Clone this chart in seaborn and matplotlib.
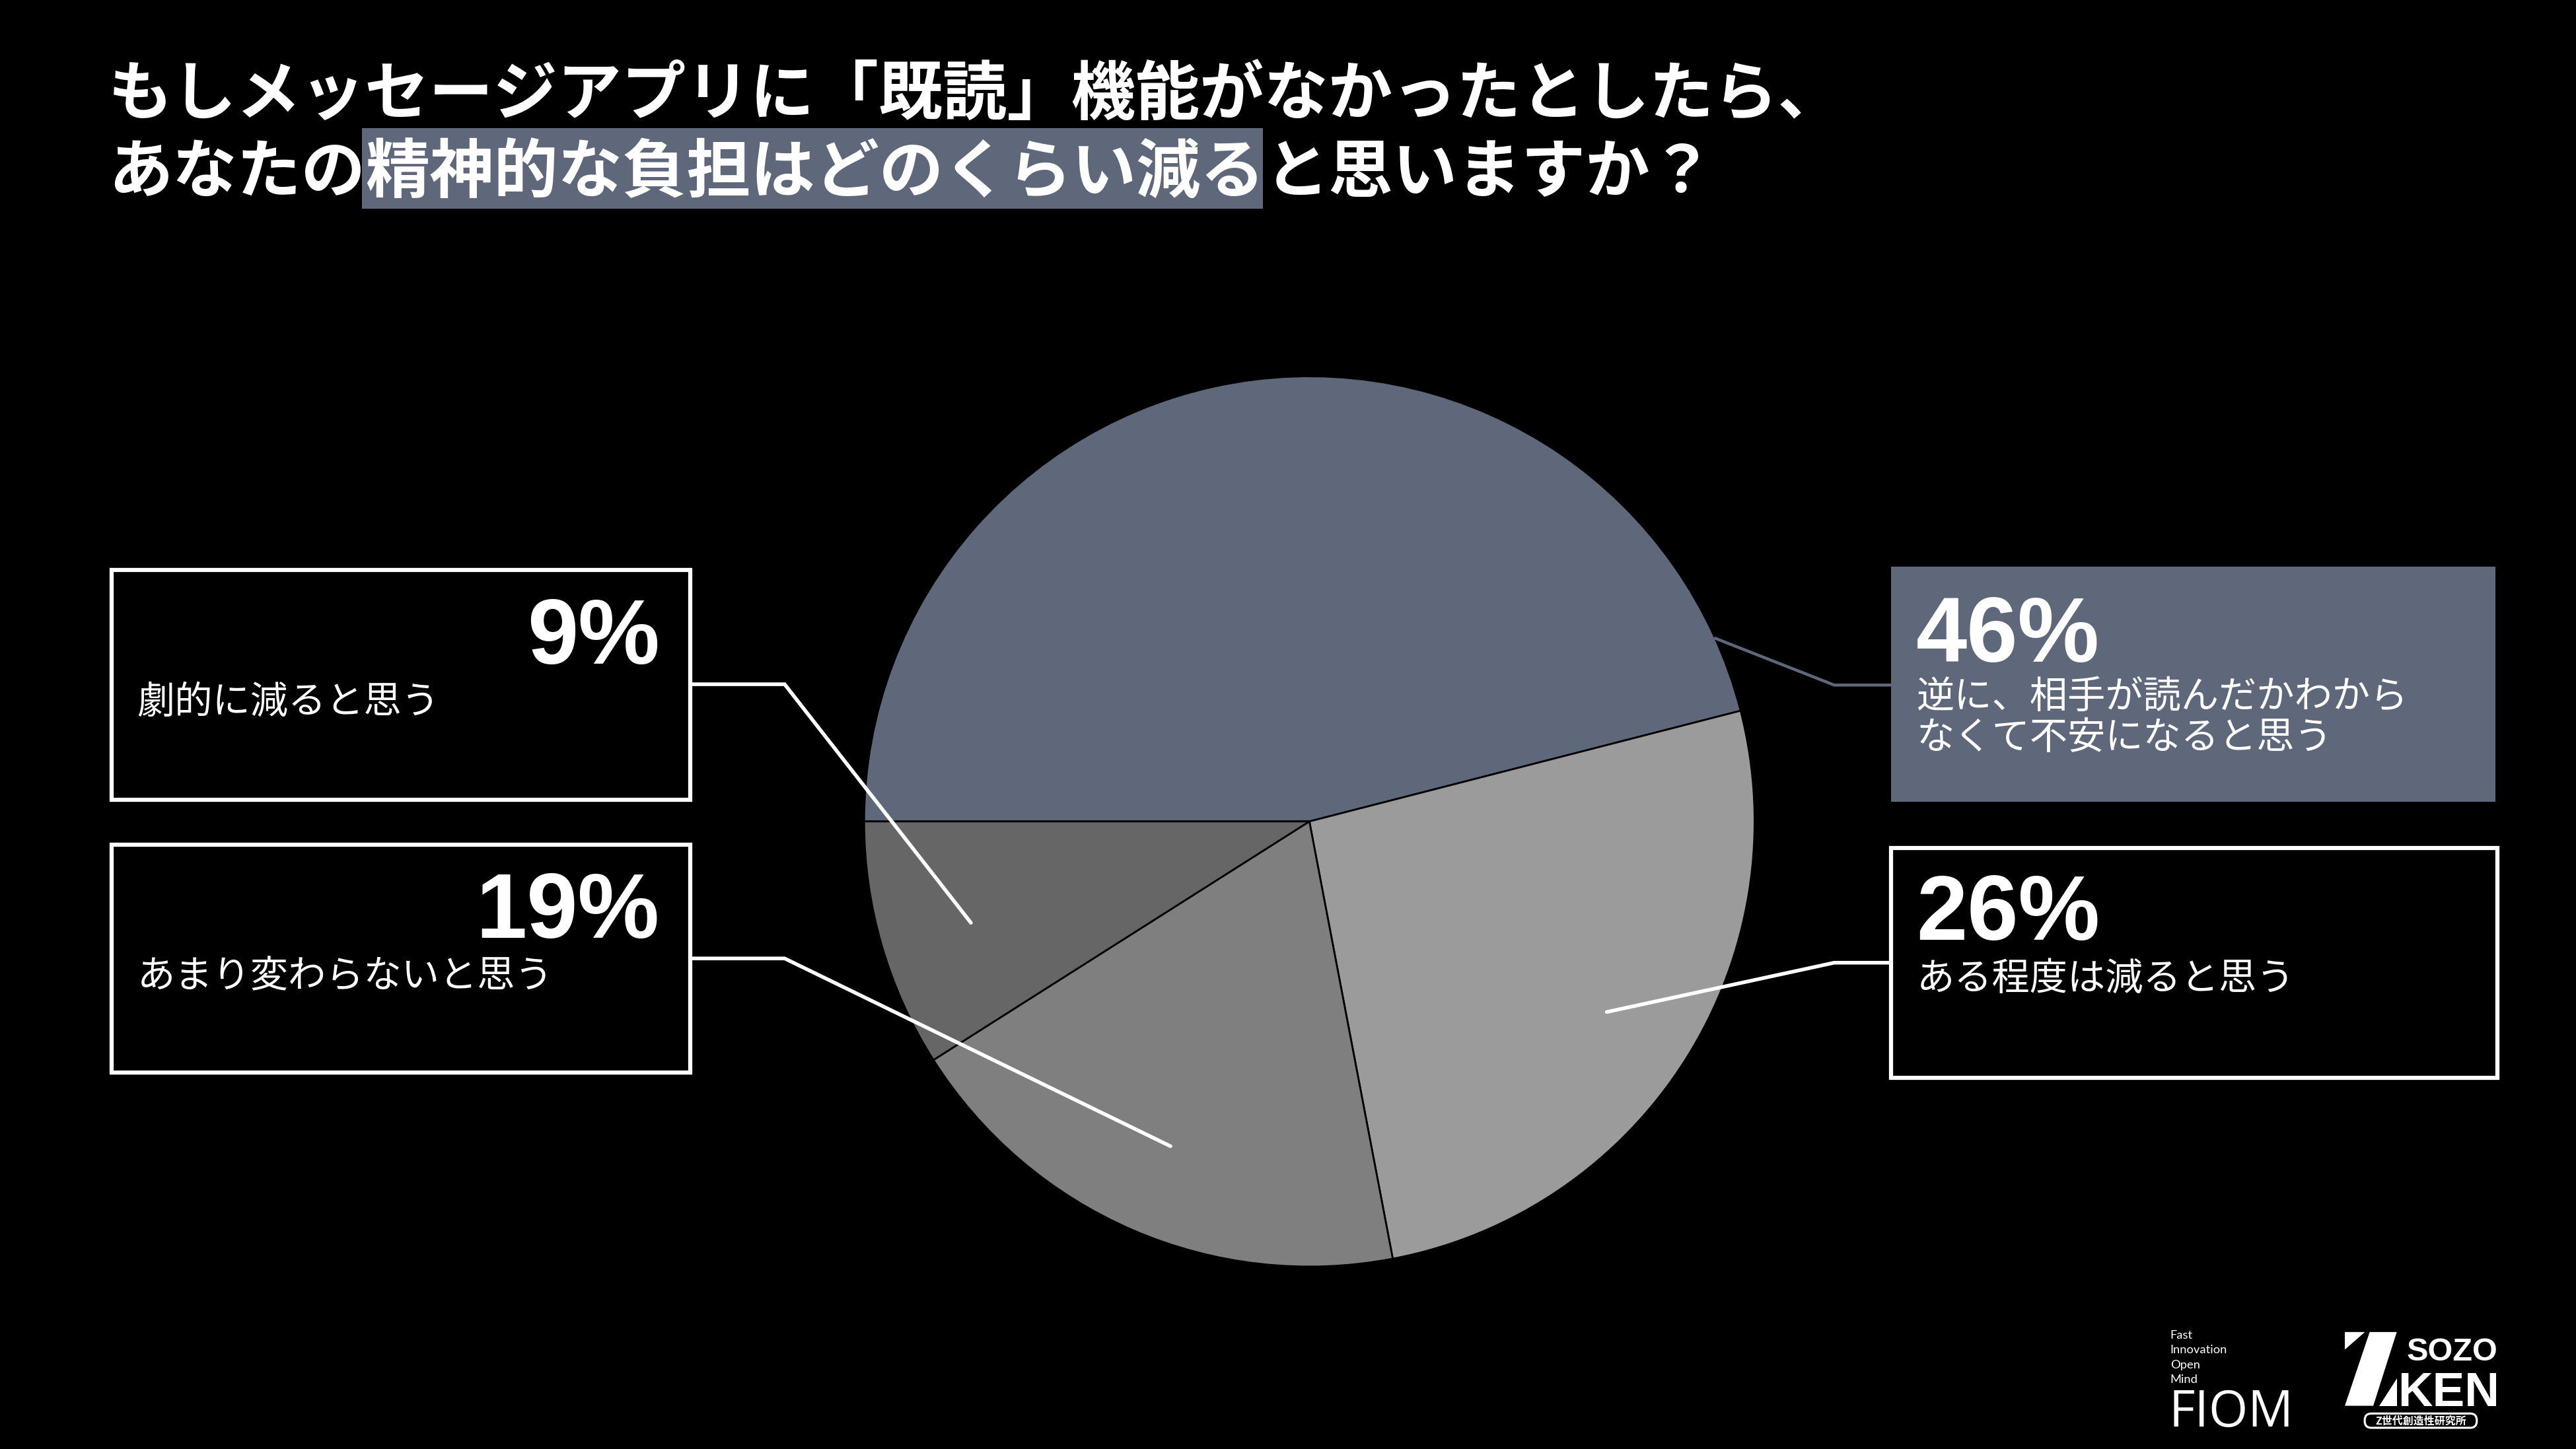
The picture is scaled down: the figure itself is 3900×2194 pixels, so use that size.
import matplotlib
matplotlib.use("Agg")
import matplotlib.pyplot as plt
import seaborn as sns
from matplotlib.patches import Rectangle, Polygon, FancyBboxPatch

# survey answers, drawn clockwise from 9 o'clock
answers = [
    "逆に、相手が読んだかわから\nなくて不安になると思う",
    "ある程度は減ると思う",
    "あまり変わらないと思う",
    "劇的に減ると思う",
]
shares = [46, 26, 19, 9]
slice_colors = ["#5E687A", "#9B9B9B", "#7F7F7F", "#666666"]

title_line1 = "もしメッセージアプリに「既読」機能がなかったとしたら、"
title_line2 = ["あなたの", "精神的な負担はどのくらい減る", "と思いますか？"]

fiom_words = ["Fast", "Innovation", "Open", "Mind"]

sns.set_theme(style="dark", rc={"figure.facecolor": "black", "axes.facecolor": "black"})
plt.rcParams["font.family"] = ["Noto Sans CJK JP", "DejaVu Sans"]

SLATE = "#5E687A"
W, H = 1568, 882  # layout units (reference at screen scale)
fig = plt.figure(figsize=(15.6, 8.776), dpi=250, facecolor="black")

# pie: centre (797, 500), radius 271 in layout units
cx, cy, r = 797, 500, 271
ax_pie = fig.add_axes([(cx - r) / W, (H - (cy + r)) / H, 2 * r / W, 2 * r / H])
ax_pie.pie(shares, colors=sns.color_palette(slice_colors), startangle=180, counterclock=False,
           radius=1, wedgeprops=dict(edgecolor="black", linewidth=0.8))
ax_pie.set_xlim(-1, 1)
ax_pie.set_ylim(-1, 1)
ax_pie.axis("off")

# overlay in layout units, y goes down
ax = fig.add_axes([0, 0, 1, 1], facecolor="none")
ax.set_xlim(0, W)
ax.set_ylim(H, 0)
ax.axis("off")

# title
ax.text(66, 58.5, title_line1, color="white", fontsize=28, weight="bold", va="center", ha="left")
t_a = ax.text(66, 105.5, title_line2[0], color="white", fontsize=28, weight="bold", va="center", ha="left")
t_b = ax.annotate(title_line2[1], xy=(1, 0), xycoords=t_a, va="bottom", ha="left",
                  color="white", fontsize=28, weight="bold", zorder=3)
t_c = ax.annotate(title_line2[2], xy=(1, 0), xycoords=t_b, va="bottom", ha="left",
                  color="white", fontsize=28, weight="bold", zorder=3)

# boxes: (x0, y0, x1, y1), filled?, number baseline, label centre y, number align
boxes = [
    ((1151, 345, 1519, 488), True, 403, 424.5, "left"),
    ((1151, 516, 1520, 656), False, 572, 596, "left"),
    ((68, 514, 420, 653), False, 571, 594.5, "right"),
    ((68, 347, 420, 487), False, 404, 427.5, "right"),
]
# leader lines: start in slice, elbow, end at box
leaders = [
    [(1044, 388.5), (1116.5, 417), (1151, 417)],
    [(978, 616), (1116.5, 586), (1151, 586)],
    [(712.5, 697.7), (477.6, 583.4), (420, 583.4)],
    [(591, 561.7), (477.6, 416.5), (420, 416.5)],
]

for i, (val, label) in enumerate(zip(shares, answers)):
    (x0, y0, x1, y1), filled, num_y, lab_y, align = boxes[i]
    if filled:
        ax.add_patch(Rectangle((x0, y0), x1 - x0, y1 - y0, facecolor=SLATE, edgecolor="none"))
    else:
        ax.add_patch(Rectangle((x0, y0), x1 - x0, y1 - y0, facecolor="none",
                               edgecolor="white", linewidth=1.8))
    pts = leaders[i]
    ax.plot([p[0] for p in pts], [p[1] for p in pts],
            color=SLATE if filled else "white", linewidth=1.3 if filled else 1.6,
            solid_joinstyle="miter")
    nx = x0 + 15.5 if align == "left" else x1 - 18.5
    ax.text(nx, num_y, f"{val}%", color="white", fontsize=40, weight="bold",
            family="Liberation Sans", ha=align, va="baseline")
    for k, line in enumerate(label.split("\n")):
        ax.text(x0 + 15.5, lab_y + k * 25, line, color="white", fontsize=16.5,
                ha="left", va="center")

# highlight behind the key phrase of the title
fig.canvas.draw()
bb = t_b.get_window_extent(fig.canvas.get_renderer())
inv = ax.transData.inverted()
hx0 = inv.transform((bb.x0, bb.y0))[0]
hx1 = inv.transform((bb.x1, bb.y0))[0]
ax.add_patch(Rectangle((hx0 - 2, 78), hx1 - hx0 + 1, 49, facecolor=SLATE, edgecolor="none", zorder=1))

# logos
for k, w in enumerate(fiom_words):
    ax.text(1321, [812.8, 821.5, 830.9, 839.6][k], w, color="white", fontsize=5.3,
            family="Lato", ha="left", va="center")
ax.text(1320, 868.5, "FIOM", color="white", fontsize=22, family="Open Sans", ha="left", va="baseline")

ax.add_patch(Polygon([(1427.3, 810.8), (1439.5, 810.8), (1427.3, 821.5)], color="white", lw=0))
ax.add_patch(Polygon([(1442.4, 810.8), (1458.9, 810.8), (1444.6, 855.7), (1427.3, 855.7)],
                     color="white", lw=0))
ax.add_patch(Polygon([(1448.1, 855.7), (1458.9, 855.7), (1458.9, 839.0)], color="white", lw=0))
ax.text(1465, 828.2, "SOZO", color="white", fontsize=14, weight="bold",
        family="Liberation Sans", ha="left", va="baseline")
ax.text(1459.5, 855.7, "KEN", color="white", fontsize=21, weight="bold",
        family="Liberation Sans", ha="left", va="baseline")
ax.add_patch(FancyBboxPatch((1440, 861), 67, 7.5, boxstyle="round,pad=0.6,rounding_size=4",
                            facecolor="black", edgecolor="white", linewidth=0.9))
ax.text(1473.5, 864.9, "Z世代創造性研究所", color="white", fontsize=4.6, weight="bold",
        ha="center", va="center")

fig.savefig("out.png", dpi=250, facecolor="black")
